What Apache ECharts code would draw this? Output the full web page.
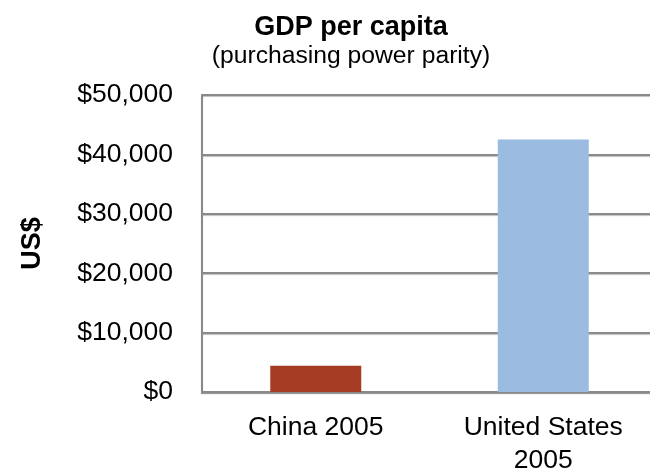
<!DOCTYPE html>
<html>
<head>
<meta charset="utf-8">
<style>
  html, body { margin: 0; padding: 0; background: #fff; }
  #chart { width: 650px; height: 472px; }
</style>
<script src="https://cdn.jsdelivr.net/npm/echarts@6/dist/echarts.min.js"></script>
</head>
<body>
<div id="chart"></div>
<script>
// GDP per capita (PPP), US$
const categories = ['China 2005', 'United States\n2005'];
const gdpValues = [4400, 42500];
const barColors = ['#A63C24', '#9BBBE1'];
const yTicks = { min: 0, max: 50000, interval: 10000 };

const FONT = '"Liberation Sans", Arial, Helvetica, sans-serif';
const gridLine = { color: '#8a8a8a', width: 2, shadowColor: 'rgba(0,0,0,0.25)', shadowOffsetY: 1, shadowBlur: 1 };

const chart = echarts.init(document.getElementById('chart'), null, { renderer: 'canvas' });
chart.setOption({
  animation: false,
  backgroundColor: '#fff',
  title: {
    text: 'GDP per capita',
    subtext: '(purchasing power parity)',
    left: 346,
    textAlign: 'center',
    top: 9,
    itemGap: 3,
    textStyle: { fontFamily: FONT, fontWeight: 'bold', fontSize: 27, color: '#000' },
    subtextStyle: { fontFamily: FONT, fontSize: 24.7, color: '#000' }
  },
  grid: { left: 202, top: 95, width: 455, height: 297, containLabel: false, outerBoundsMode: 'none' },
  xAxis: {
    type: 'category',
    data: categories,
    axisTick: { show: false },
    axisLine: { lineStyle: gridLine },
    axisLabel: { fontFamily: FONT, fontSize: 26.5, color: '#000', margin: 19, lineHeight: 33, interval: 0 }
  },
  yAxis: {
    type: 'value',
    min: yTicks.min,
    max: yTicks.max,
    interval: yTicks.interval,
    name: 'US$',
    nameLocation: 'middle',
    nameRotate: 90,
    nameGap: 156,
    nameTextStyle: { fontFamily: FONT, fontWeight: 'bold', fontSize: 27, color: '#000' },
    axisLine: { show: true, lineStyle: gridLine },
    axisTick: { show: false },
    splitLine: { lineStyle: gridLine },
    axisLabel: {
      fontFamily: FONT, fontSize: 26.5, color: '#000', margin: 29,
      formatter: v => '$' + v.toLocaleString('en-US')
    }
  },
  series: [{
    type: 'bar',
    barWidth: '40%',
    data: gdpValues.map((v, i) => ({ value: v, itemStyle: { color: barColors[i] } }))
  }]
});
</script>
</body>
</html>
